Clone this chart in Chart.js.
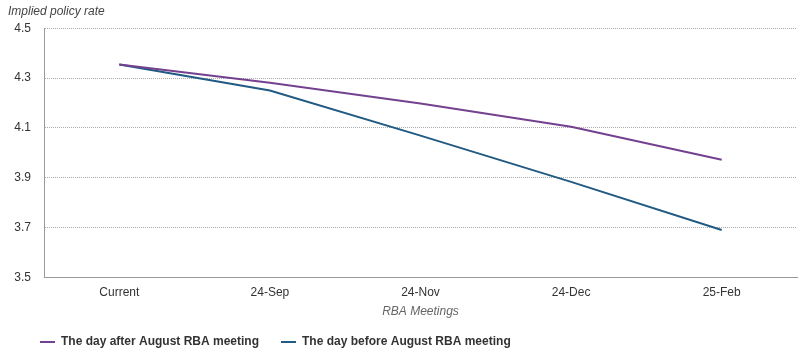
<!DOCTYPE html>
<html>
<head>
<meta charset="utf-8">
<script src="https://cdn.jsdelivr.net/npm/chart.js@4/dist/chart.umd.min.js"></script>
<style>
  html, body { margin: 0; padding: 0; background: #fff; }
  #wrap { width: 801px; height: 353px; }
</style>
</head>
<body>
<div id="wrap"><canvas id="myChart"></canvas></div>
<script>
const meetings = ["Current", "24-Sep", "24-Nov", "24-Dec", "25-Feb"];
const dayAfter = [4.355, 4.282, 4.198, 4.105, 3.972];
const dayBefore = [4.355, 4.25, 4.069, 3.883, 3.69];

Chart.defaults.font.family = "'Liberation Sans', Arial, sans-serif";
Chart.defaults.font.size = 12;
Chart.defaults.color = "#333";

// nudge the legend a bit to the right, like the original
const legendShift = {
  id: "legendShift",
  afterLayout(chart) {
    chart.legend.left += 10;
  },
};

const chart = new Chart("myChart", {
  type: "line",
  data: {
    labels: meetings,
    datasets: [
      {
        label: "The day after August RBA meeting",
        data: dayAfter,
        borderColor: "#73418f",
        backgroundColor: "#73418f",
        borderWidth: 2,
        pointRadius: 0,
        tension: 0,
      },
      {
        label: "The day before August RBA meeting",
        data: dayBefore,
        borderColor: "#215a82",
        backgroundColor: "#215a82",
        borderWidth: 2,
        pointRadius: 0,
        tension: 0,
      },
    ],
  },
  plugins: [legendShift],
  options: {
    responsive: true,
    maintainAspectRatio: false,
    animation: false,
    layout: { padding: { left: 8, right: 4, top: 0, bottom: -5 } },
    plugins: {
      title: {
        display: true,
        text: "Implied policy rate",
        align: "start",
        color: "#444",
        font: { size: 12, style: "italic", weight: "normal" },
        padding: { top: 4, bottom: 10 },
      },
      legend: {
        position: "bottom",
        align: "start",
        labels: {
          usePointStyle: true,
          pointStyle: "line",
          pointStyleWidth: 15,
          color: "#333",
          padding: 22,
          font: { size: 12, weight: "bold" },
        },
      },
      tooltip: { enabled: false },
    },
    scales: {
      x: {
        offset: true,
        grid: { display: false, drawTicks: false },
        border: { display: true, color: "#999", width: 1 },
        ticks: { padding: 8, color: "#333" },
        title: {
          display: true,
          text: "RBA Meetings",
          color: "#666",
          font: { size: 12, style: "italic" },
          padding: { top: -3, bottom: -5 },
        },
      },
      y: {
        min: 3.5,
        max: 4.5,
        afterFit: (scale) => {
          scale.width = 36;
        },
        grid: { color: "#aaa", drawTicks: false },
        border: { display: true, color: "#999", width: 1, dash: [1, 1] },
        ticks: {
          stepSize: 0.2,
          padding: 13,
          color: "#333",
          callback: (v) => Number(v).toFixed(1),
        },
      },
    },
  },
});
</script>
</body>
</html>
